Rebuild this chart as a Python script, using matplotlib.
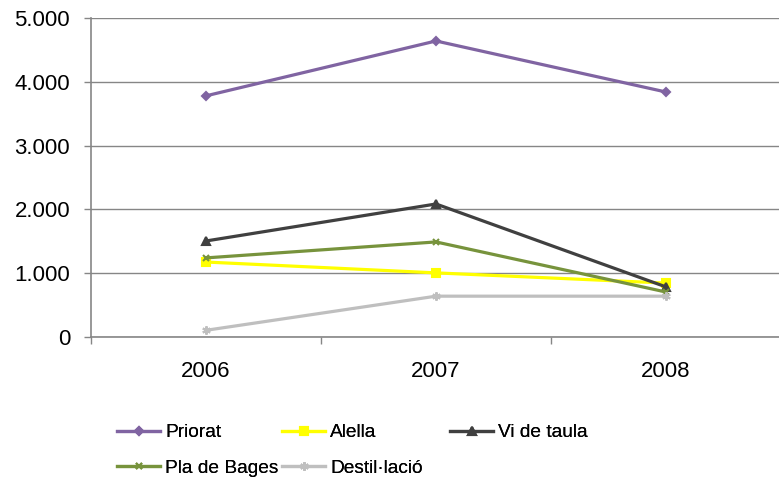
import matplotlib
matplotlib.use("Agg")
import matplotlib.pyplot as plt
import numpy as np
from matplotlib.ticker import FuncFormatter

years = ["2006", "2007", "2008"]
priorat = [3780, 4640, 3840]
alella = [1175, 1005, 845]
vi_de_taula = [1505, 2085, 785]
pla_de_bages = [1240, 1490, 705]
destillacio = [105, 640, 640]

series = [
    ("Priorat", priorat, "#8064A2", "D", 4),
    ("Alella", alella, "#FFFF00", "s", 6),
    ("Vi de taula", vi_de_taula, "#404040", "^", 6),
    ("Pla de Bages", pla_de_bages, "#77933C", "x", 5),
    ("Destil·lació", destillacio, "#BFBFBF", (6, 2, 0), 6),
]

plt.rcParams["font.family"] = ["Liberation Sans", "DejaVu Sans"]
fig = plt.figure(figsize=(7.79, 4.82), dpi=100)
ax = fig.add_axes([91 / 779, 1 - 337 / 482, 690 / 779, 319 / 482])

x = np.arange(len(years)) + 0.5
handles = {}
for name, vals, color, marker, ms in series:
    (h,) = ax.plot(x, vals, color=color, linewidth=2.3, marker=marker,
                   markersize=ms, markeredgewidth=1.5, label=name)
    handles[name] = h

ax.set_xlim(0, len(years))
ax.set_ylim(0, 5000)
ax.set_yticks(np.arange(0, 5001, 1000))
ax.yaxis.set_major_formatter(FuncFormatter(lambda v, p: f"{int(v):,}".replace(",", ".")))
ax.set_xticks(x)
ax.set_xticklabels(years)
ax.set_xticks(np.arange(len(years) + 1), minor=True)
ax.tick_params(axis="x", which="major", length=0, pad=17, labelsize=16)
ax.tick_params(axis="x", which="minor", length=5, color="#868686", width=1)
ax.tick_params(axis="y", length=5, color="#868686", width=1, pad=10, labelsize=16)
ax.grid(axis="y", color="#868686", linewidth=1)
ax.set_axisbelow(True)
for s in ("top", "right"):
    ax.spines[s].set_visible(False)
for s in ("left", "bottom"):
    ax.spines[s].set_color("#868686")
    ax.spines[s].set_linewidth(1.2)

# Excel-style legend: fixed-width grid, one column at a time
columns = [(["Priorat", "Pla de Bages"], 117), (["Alella", "Destil·lació"], 282),
           (["Vi de taula"], 450)]
for names, left in columns:
    leg = fig.legend([handles[n] for n in names], names, frameon=False,
                     loc="upper left", bbox_to_anchor=(left / 779, 1 - 424 / 482),
                     fontsize=13.8, handlelength=2.25, handletextpad=0.26,
                     labelspacing=0.95, borderpad=0, borderaxespad=0)
    fig.add_artist(leg)

fig.savefig("out.png", dpi=100)
